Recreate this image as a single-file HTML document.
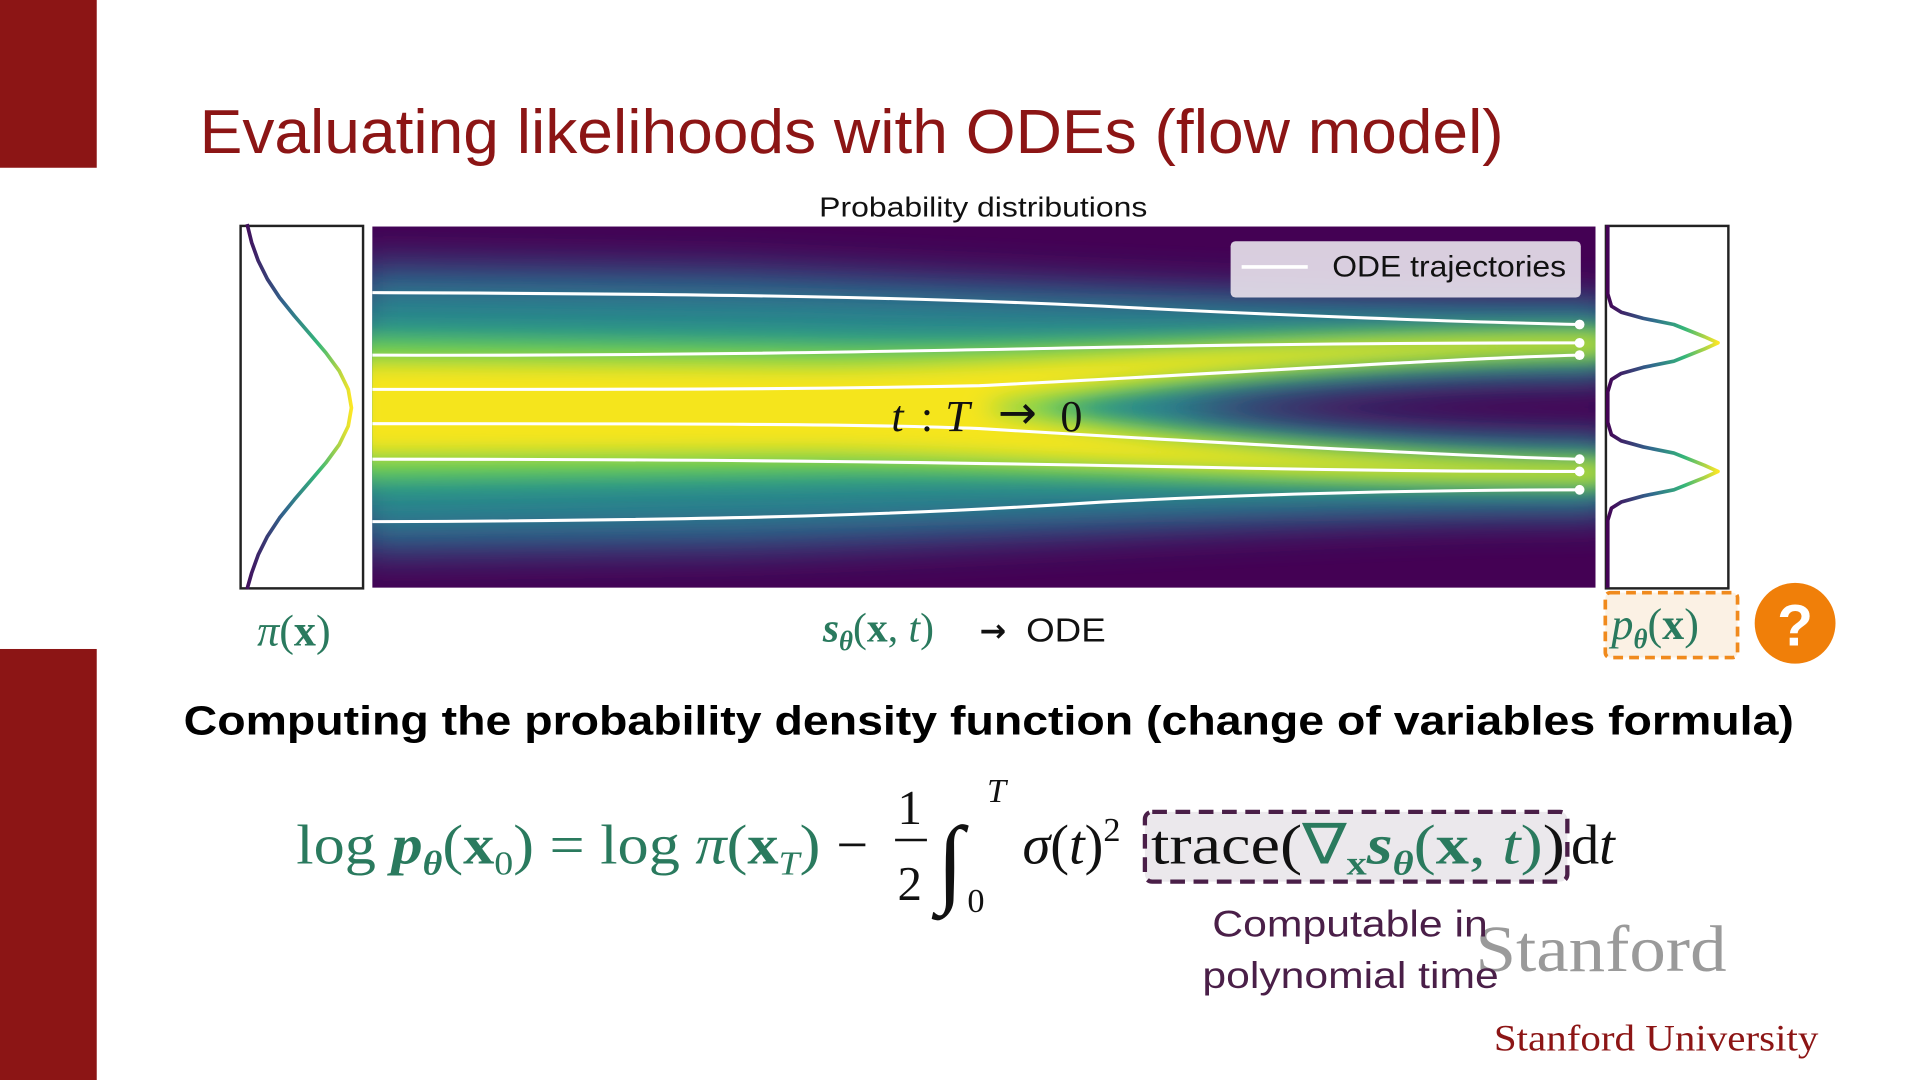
<!DOCTYPE html>
<html><head><meta charset="utf-8"><style>
html,body{margin:0;padding:0;background:#fff;overflow:hidden;width:1920px;height:1080px}
svg{display:block}
.ser{font-family:"Liberation Serif",serif}
.san{font-family:"Liberation Sans",sans-serif}
</style></head><body>
<svg width="1920" height="1080" viewBox="0 0 1568 882" preserveAspectRatio="none" xmlns="http://www.w3.org/2000/svg">
<defs>
<filter id="b1" x="-20%" y="-50%" width="140%" height="200%"><feGaussianBlur stdDeviation="16"/></filter>
<filter id="b2" x="-20%" y="-50%" width="140%" height="200%"><feGaussianBlur stdDeviation="9"/></filter>
<clipPath id="hc"><rect x="304" y="185" width="999" height="295"/></clipPath>
<linearGradient id="vl2" gradientUnits="userSpaceOnUse" x1="197" y1="0" x2="287" y2="0"><stop offset="0" stop-color="#440154"/><stop offset="0.4" stop-color="#31688e"/><stop offset="0.7" stop-color="#35b779"/><stop offset="1" stop-color="#fde725"/></linearGradient>
<linearGradient id="vl3" gradientUnits="userSpaceOnUse" x1="1312" y1="0" x2="1403" y2="0"><stop offset="0" stop-color="#440154"/><stop offset="0.4" stop-color="#31688e"/><stop offset="0.7" stop-color="#35b779"/><stop offset="1" stop-color="#fde725"/></linearGradient>
</defs>
<rect x="0" y="0" width="79" height="137" fill="#8c1515"/>
<rect x="0" y="530" width="79" height="352" fill="#8c1515"/>
<text x="163" y="125" class="san" font-size="51" fill="#8c1515" textLength="1065" lengthAdjust="spacingAndGlyphs">Evaluating likelihoods with ODEs (flow model)</text>
<text x="803" y="177" class="san" font-size="23" text-anchor="middle" fill="#111" textLength="268" lengthAdjust="spacingAndGlyphs">Probability distributions</text>
<!-- heatmap -->
<g clip-path="url(#hc)">
<rect x="304" y="185" width="999" height="295" fill="#440154"/>
<path d="M290 215 L600 220 C850 230 1100 245 1320 245 L1320 305 C1150 305 1000 320 950 333 C1000 346 1150 360 1320 360 L1320 420 C1100 420 850 440 600 448 L290 452 Z" fill="#2d6a8e" filter="url(#b1)"/>
<path d="M290 250 L650 255 C900 262 1150 262 1320 262 L1320 300 C1150 300 980 318 880 333 C980 348 1150 367 1320 367 L1320 405 C1150 405 900 405 650 412 L290 418 Z" fill="#25958a" filter="url(#b1)"/>
<path d="M290 275 L650 280 C850 285 1100 270 1320 270 L1320 292 C1150 292 950 310 850 333 C950 355 1150 375 1320 375 L1320 397 C1100 397 850 385 650 388 L290 392 Z" fill="#6cce59" filter="url(#b2)"/>
<path d="M290 295 L650 298 C800 300 1050 276 1310 276 L1310 286 C1100 290 900 310 800 333 C900 356 1100 378 1310 381 L1310 391 C1050 391 800 370 650 370 L290 372 Z" fill="#f5e51f" filter="url(#b2)"/>
<g fill="none" stroke="#fff" stroke-width="2.5">
<path d="M304 239 C600 240 750 243 900 250 C1050 258 1200 263 1290 265"/>
<path d="M304 290 C600 291 800 285 1000 282 C1150 280 1250 280 1290 280"/>
<path d="M304 318 C550 318 650 318 800 315 C1000 305 1200 292 1290 290"/>
<path d="M304 346 C550 346 700 346 800 350 C1000 362 1200 373 1290 375"/>
<path d="M304 375 C600 375 800 378 1000 382 C1150 385 1250 385 1290 385"/>
<path d="M304 426 C600 425 750 420 900 410 C1050 402 1200 400 1290 400"/>
</g>
<g fill="#fff"><circle cx="1290" cy="265" r="4"/><circle cx="1290" cy="280" r="4"/><circle cx="1290" cy="290" r="4"/><circle cx="1290" cy="375" r="4"/><circle cx="1290" cy="385" r="4"/><circle cx="1290" cy="400" r="4"/></g>
<rect x="1005" y="197" width="286" height="46" rx="4" fill="#e6e0ea" opacity="0.92"/>
<line x1="1014" y1="218" x2="1068" y2="218" stroke="#fff" stroke-width="3"/>
<text x="1088" y="226" class="san" font-size="24" fill="#111" textLength="191" lengthAdjust="spacingAndGlyphs">ODE trajectories</text>
</g>
<text x="728" y="352" class="ser" font-size="36" font-style="italic" fill="#111">t</text>
<text x="752" y="352" class="ser" font-size="36" fill="#111">:</text>
<text x="772" y="352" class="ser" font-size="36" font-style="italic" fill="#111">T</text>
<text x="815" y="350" font-family="DejaVu Sans,sans-serif" font-size="38" fill="#111">→</text>
<text x="866" y="352" class="ser" font-size="36" fill="#111">0</text>
<!-- side panels -->
<rect x="196.5" y="184.5" width="100" height="296" fill="none" stroke="#222" stroke-width="2"/>
<polyline points="201.8,183 205.5,198 210.9,213 218.4,228 228.3,243 240.4,258 253.3,273 266.1,288 277.1,303 284.4,318 287,333 284.4,348 277.1,363 266.1,378 253.3,393 240.4,408 228.3,423 218.4,438 210.9,453 205.5,468 201.8,481" fill="none" stroke="url(#vl2)" stroke-width="3" stroke-linejoin="round"/>
<rect x="1311.5" y="184.5" width="100" height="296" fill="none" stroke="#222" stroke-width="2"/>
<polyline points="1313,184 1313,240 1316,250 1324,255 1342,260 1367,265 1392,275 1403,280 1392,285 1367,295 1342,300 1324,305 1316,310 1313,320 1313,345 1316,355 1324,360 1342,365 1367,370 1392,380 1403,385 1392,390 1367,400 1342,405 1324,410 1316,415 1313,425 1313,480" fill="none" stroke="url(#vl3)" stroke-width="3" stroke-linejoin="round"/>
<!-- labels -->
<text x="210" y="527" class="ser" font-size="36" fill="#2a7a5e"><tspan font-style="italic">π</tspan>(<tspan font-weight="bold">x</tspan>)</text>
<text x="672" y="524" class="ser" font-size="34" fill="#2a7a5e"><tspan font-style="italic" font-weight="bold">s</tspan><tspan font-size="22" font-style="italic" font-weight="bold" dy="7">θ</tspan><tspan dy="-7">(</tspan><tspan font-weight="bold">x</tspan>, <tspan font-style="italic">t</tspan>)</text>
<text x="800" y="524" font-family="DejaVu Sans,sans-serif" font-size="26" font-weight="bold" fill="#111">→</text>
<text x="838" y="524" class="san" font-size="27" fill="#111" textLength="65" lengthAdjust="spacingAndGlyphs">ODE</text>
<rect x="1311" y="484" width="108" height="53" rx="4" fill="#fbf1e4" stroke="#f08a1d" stroke-width="3" stroke-dasharray="8 5"/>
<text x="1316" y="522" class="ser" font-size="36" fill="#2a7a5e"><tspan font-style="italic">p</tspan><tspan font-size="22" font-style="italic" font-weight="bold" dy="7">θ</tspan><tspan dy="-7">(</tspan><tspan font-weight="bold">x</tspan>)</text>
<circle cx="1466" cy="509" r="33" fill="#f07f09"/>
<text x="1466" y="527" class="san" font-size="48" font-weight="bold" fill="#fff" text-anchor="middle">?</text>
<text x="150" y="600" class="san" font-size="33" font-weight="bold" fill="#000" textLength="1315" lengthAdjust="spacingAndGlyphs">Computing the probability density function (change of variables formula)</text>
<!-- formula -->
<rect x="935" y="663" width="345" height="57" rx="6" fill="#ebe8ec" stroke="#4a1f48" stroke-width="3.5" stroke-dasharray="12 7"/>
<text x="242" y="705" class="ser" font-size="46" fill="#2a7a5e" textLength="428" lengthAdjust="spacingAndGlyphs">log <tspan font-style="italic" font-weight="bold">p</tspan><tspan font-size="28" font-style="italic" font-weight="bold" dy="9">θ</tspan><tspan dy="-9">(</tspan><tspan font-weight="bold">x</tspan><tspan font-size="28" dy="9">0</tspan><tspan dy="-9">) = log </tspan><tspan font-style="italic">π</tspan>(<tspan font-weight="bold">x</tspan><tspan font-size="28" font-style="italic" dy="9">T</tspan><tspan dy="-9">)</tspan></text>
<text x="683" y="705" class="ser" font-size="46" fill="#111">−</text>
<text x="733" y="673" class="ser" font-size="40" fill="#111">1</text>
<line x1="731" y1="686" x2="757" y2="686" stroke="#111" stroke-width="2"/>
<text x="733" y="735" class="ser" font-size="40" fill="#111">2</text>
<text x="765" y="730" class="ser" font-size="80" font-style="italic" fill="#111">∫</text>
<text x="806" y="655" class="ser" font-size="28" font-style="italic" fill="#111">T</text>
<text x="790" y="745" class="ser" font-size="28" fill="#111">0</text>
<text x="835" y="705" class="ser" font-size="46" fill="#111"><tspan font-style="italic">σ</tspan>(<tspan font-style="italic">t</tspan>)<tspan font-size="28" dy="-18">2</tspan></text>
<text x="940" y="705" class="ser" font-size="46" fill="#111" textLength="338" lengthAdjust="spacingAndGlyphs">trace(<tspan fill="#2a7a5e">∇</tspan><tspan fill="#2a7a5e" font-size="28" font-weight="bold" dy="9">x</tspan><tspan fill="#2a7a5e" font-style="italic" font-weight="bold" dy="-9">s</tspan><tspan fill="#2a7a5e" font-size="28" font-style="italic" font-weight="bold" dy="9">θ</tspan><tspan fill="#2a7a5e" dy="-9">(</tspan><tspan fill="#2a7a5e" font-weight="bold">x</tspan><tspan fill="#2a7a5e">, </tspan><tspan fill="#2a7a5e" font-style="italic">t</tspan><tspan fill="#2a7a5e">)</tspan>)</text>
<text x="1283" y="705" class="ser" font-size="46" fill="#111">d<tspan font-style="italic">t</tspan></text>
<text x="1205" y="793" class="ser" font-size="54" fill="#9a9a9a" textLength="205" lengthAdjust="spacingAndGlyphs">Stanford</text>
<text x="990" y="765" class="san" font-size="30" fill="#4a1f48" textLength="225" lengthAdjust="spacingAndGlyphs">Computable in</text>
<text x="982" y="807" class="san" font-size="30" fill="#4a1f48" textLength="242" lengthAdjust="spacingAndGlyphs">polynomial time</text>
<text x="1220" y="858" class="ser" font-size="30" fill="#8c1515" textLength="265" lengthAdjust="spacingAndGlyphs">Stanford University</text>
</svg>
</body></html>
